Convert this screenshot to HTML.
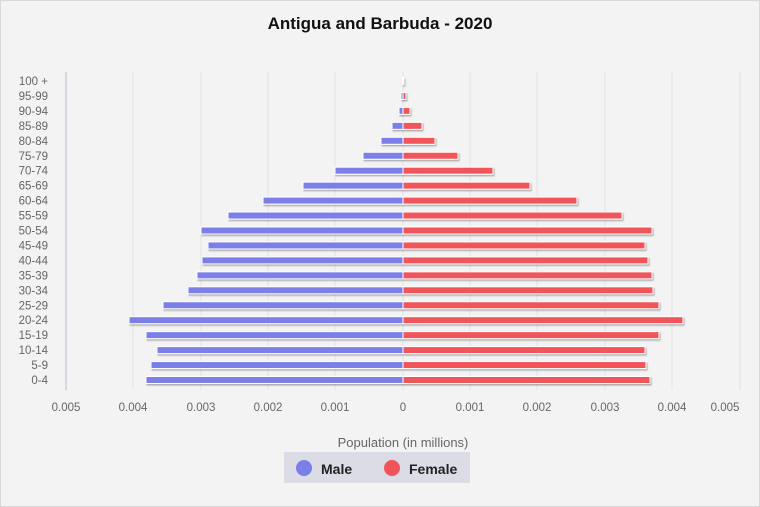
<!DOCTYPE html>
<html><head><meta charset="utf-8"><style>
body{margin:0;background:#fff}
svg{display:block;font-family:"Liberation Sans",sans-serif}
</style></head><body>
<svg width="760" height="507" viewBox="0 0 760 507">
<defs><filter id="sh" x="-5%" y="-50%" width="110%" height="250%"><feDropShadow dx="1" dy="1.5" stdDeviation="0.8" flood-color="#000" flood-opacity="0.3"/></filter></defs>
<rect x="0.5" y="0.5" width="759" height="506" fill="#f3f3f3" stroke="#d8d8d8"/>
<text x="380" y="29" text-anchor="middle" font-size="17" font-weight="bold" fill="#111">Antigua and Barbuda - 2020</text>
<g stroke="#e0e3ea" stroke-width="1">
<line x1="133" y1="72" x2="133" y2="390"/><line x1="201" y1="72" x2="201" y2="390"/><line x1="268" y1="72" x2="268" y2="390"/><line x1="335" y1="72" x2="335" y2="390"/><line x1="403" y1="72" x2="403" y2="390"/><line x1="470" y1="72" x2="470" y2="390"/><line x1="537" y1="72" x2="537" y2="390"/><line x1="605" y1="72" x2="605" y2="390"/><line x1="672" y1="72" x2="672" y2="390"/><line x1="740" y1="72" x2="740" y2="390"/>
</g>
<line x1="66" y1="72" x2="66" y2="390" stroke="#c8d0e0" stroke-width="1.5"/>
<g id="bars" filter="url(#sh)" stroke="#fff" stroke-width="1"></g>
<g font-size="11.5" fill="#666" text-anchor="end" id="ylab"></g>
<g font-size="11.5" fill="#666" text-anchor="middle">
<text x="66" y="411">0.005</text><text x="133" y="411">0.004</text><text x="201" y="411">0.003</text><text x="268" y="411">0.002</text><text x="335" y="411">0.001</text><text x="403" y="411">0</text><text x="470" y="411">0.001</text><text x="537" y="411">0.002</text><text x="605" y="411">0.003</text><text x="672" y="411">0.004</text><text x="725" y="411">0.005</text>
</g>
<text x="403" y="447" text-anchor="middle" font-size="13" fill="#666">Population (in millions)</text>
<rect x="284" y="452" width="186" height="31" fill="#dcdce6"/>
<circle cx="304" cy="468" r="8" fill="#7b7fe8"/>
<text x="321" y="474" font-size="14" font-weight="bold" fill="#222">Male</text>
<circle cx="392" cy="468" r="8" fill="#f0545a"/>
<text x="409" y="474" font-size="14" font-weight="bold" fill="#222">Female</text>
</svg>
<script>
var L=["0-4","5-9","10-14","15-19","20-24","25-29","30-34","35-39","40-44","45-49","50-54","55-59","60-64","65-69","70-74","75-79","80-84","85-89","90-94","95-99","100 +"];
var M=[146,151,157,146,129,163,188,197,202,208,201,228,263,303,335,363,381,392,399,401,402.5];
var F=[650,646,645,659,683,659,653,652,648,645,652,622,577,530,493,458,435,422,410,406,403.8];
var b=document.getElementById("bars"),y=document.getElementById("ylab"),ns="http://www.w3.org/2000/svg",h="";
var t="";
for(var i=0;i<21;i++){var cy=380-i*14.95;
h+='<rect x="'+M[i]+'" y="'+(cy-3.5)+'" width="'+(403-M[i])+'" height="7" fill="#7b7fe8"/>';
h+='<rect x="403" y="'+(cy-3.5)+'" width="'+(F[i]-403)+'" height="7" fill="#f0545a"/>';
t+='<text x="48" y="'+(cy+4)+'">'+L[i]+'</text>';}
b.innerHTML=h;y.innerHTML=t;
</script>
</body></html>
